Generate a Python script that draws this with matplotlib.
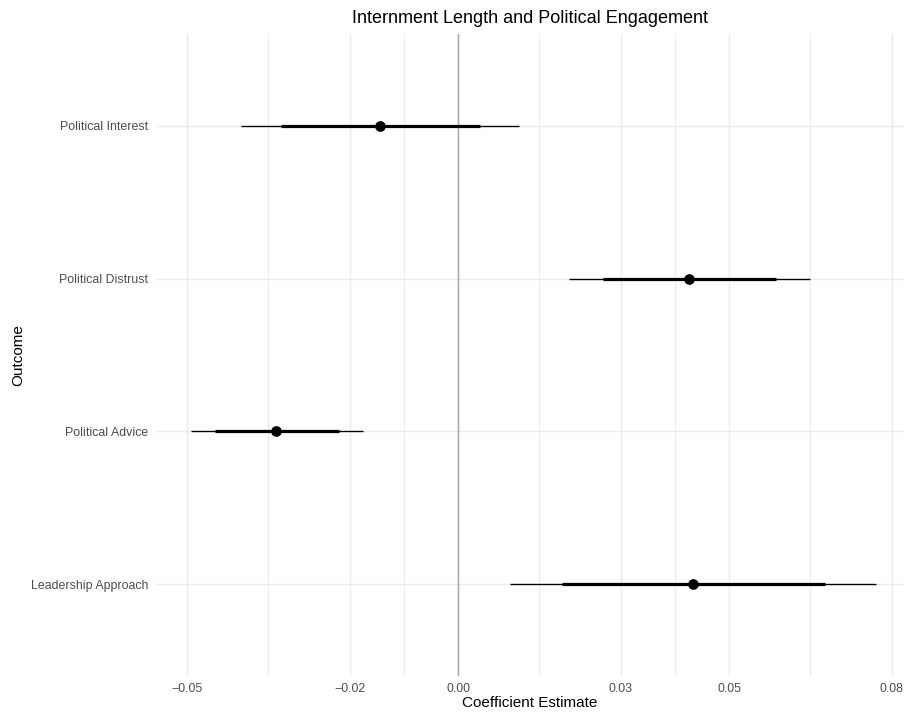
import numpy as np
import matplotlib
matplotlib.use("Agg")
import matplotlib.pyplot as plt

plt.rcParams['font.family'] = ['Liberation Sans', 'DejaVu Sans']

# bottom to top
outcomes = ["Leadership Approach", "Political Advice", "Political Distrust", "Political Interest"]
estimate = [0.0433, -0.0335, 0.0427, -0.0144]
lo_inner = [0.0191, -0.0448, 0.0268, -0.0327]
hi_inner = [0.0677, -0.0219, 0.0587, 0.0041]
lo_outer = [0.0096, -0.0493, 0.0205, -0.0400]
hi_outer = [0.0772, -0.0176, 0.0649, 0.0112]

x_breaks = [-0.05, -0.02, 0.00, 0.03, 0.05, 0.08]
x_labels = ["\u22120.05", "\u22120.02", "0.00", "0.03", "0.05", "0.08"]

W, H, DPI = 907, 715, 96
fig = plt.figure(figsize=(W / DPI, H / DPI), dpi=DPI)
left, right, top, bottom = 156, 904, 34, 676
ax = fig.add_axes([left / W, 1 - bottom / H, (right - left) / W, (bottom - top) / H])

ypos = np.arange(len(outcomes))

# grid like theme_minimal
minor = [(a + b) / 2 for a, b in zip(x_breaks[:-1], x_breaks[1:])]
for xv in x_breaks:
    ax.axvline(xv, color="#EBEBEB", lw=1.07, zorder=0)
for xv in minor:
    ax.axvline(xv, color="#EBEBEB", lw=0.8, zorder=0)
for yv in ypos:
    ax.axhline(yv, color="#EBEBEB", lw=1.07, zorder=0)

ax.axvline(0, color="#A8A8A8", lw=1.1, zorder=1)

ax.hlines(ypos, lo_outer, hi_outer, color="black", lw=1.0, zorder=2)
ax.hlines(ypos, lo_inner, hi_inner, color="black", lw=2.4, zorder=3)
ax.plot(estimate, ypos, "o", color="black", ms=7, zorder=4)

ax.set_xlim((left - 458) / 5420, (right - 458) / 5420)
ax.set_ylim(-0.6, len(outcomes) - 0.4)
ax.set_xticks(x_breaks)
ax.set_xticklabels(x_labels)
ax.set_yticks(ypos)
ax.set_yticklabels(outcomes)
ax.tick_params(axis="both", length=0, labelsize=9.3, labelcolor="#4D4D4D")
ax.tick_params(axis="x", pad=5)
ax.tick_params(axis="y", pad=6)
for s in ax.spines.values():
    s.set_visible(False)

ax.set_xlabel("Coefficient Estimate", fontsize=11.4, labelpad=1)
ax.set_ylabel("Outcome", fontsize=11.4, labelpad=4)
ax.set_title("Internment Length and Political Engagement", fontsize=13.5, pad=8)

fig.savefig("out.png", dpi=DPI)
